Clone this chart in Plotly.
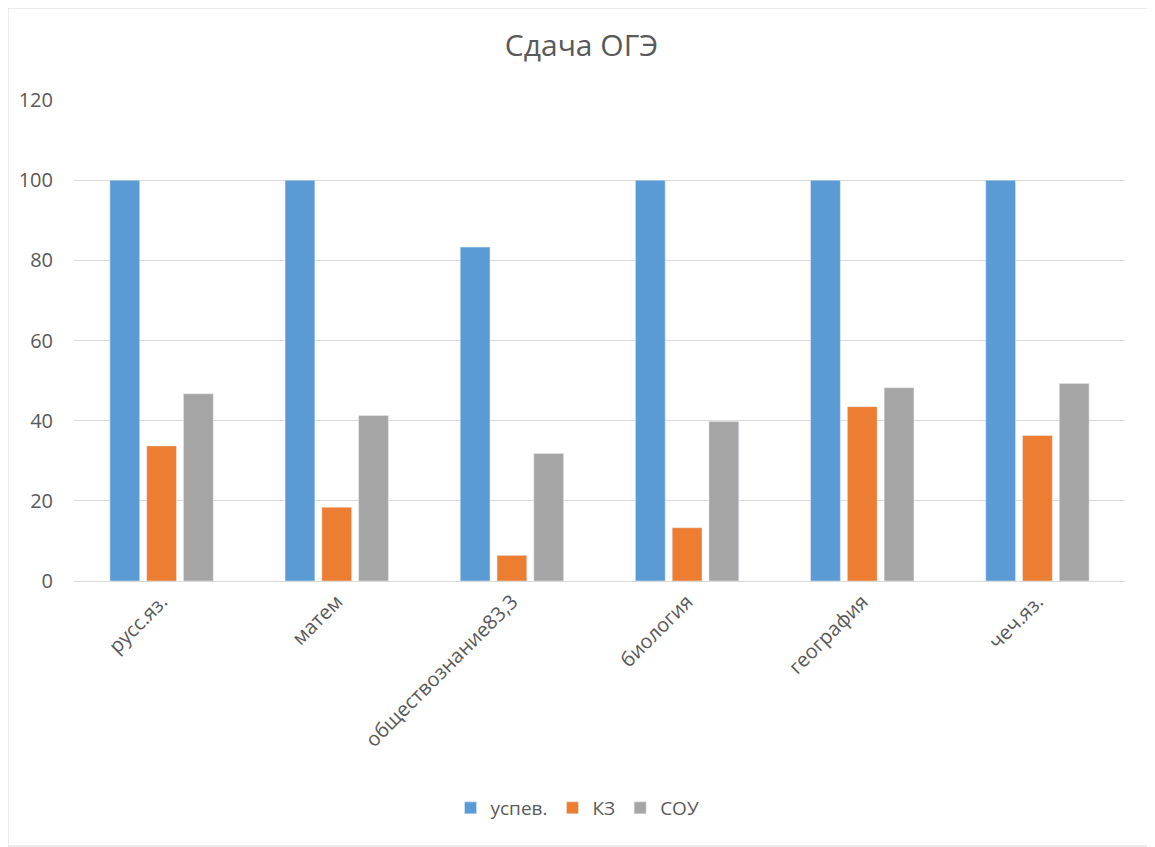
import plotly.graph_objects as go

categories = ["русс.яз.", "матем", "обществознание83,3", "биология", "география", "чеч.яз."]
uspev = [100, 100, 83.3, 100, 100, 100]
kz = [33.7, 18.4, 6.4, 13.3, 43.5, 36.3]
sou = [46.7, 41.3, 31.8, 39.8, 48.2, 49.3]
y_ticks = [0, 20, 40, 60, 80, 100, 120]

font_family = "'Open Sans', 'Noto Sans', sans-serif"
text_color = "#595959"

W, H = 1147, 839
L, R, T, B = 66, 30, 92, 266
PW, PH = W - L - R, H - T - B

fig = go.Figure()
fig.add_trace(go.Bar(name="успев.", x=categories, y=uspev, marker=dict(color="#5B9BD5")))
fig.add_trace(go.Bar(name="КЗ", x=categories, y=kz, marker=dict(color="#ED7D31")))
fig.add_trace(go.Bar(name="СОУ", x=categories, y=sou, marker=dict(color="#A5A5A5")))

fig.update_layout(
    width=W, height=H,
    paper_bgcolor="white", plot_bgcolor="white",
    margin=dict(l=L, r=R, t=T, b=B),
    barmode="group", bargap=0.37, bargroupgap=0.19,
    title=dict(text="Сдача ОГЭ", x=0.5, xanchor="center", y=1 - 37 / H, yanchor="middle",
               font=dict(family=font_family, size=30, color=text_color)),
    font=dict(family=font_family, size=20, color=text_color),
    legend=dict(orientation="h", x=0.5 - 22 / PW, xanchor="center", y=-227 / PH, yanchor="middle",
                font=dict(size=19, color=text_color), traceorder="normal",
                itemwidth=30),
    xaxis=dict(tickangle=-45, showgrid=False, showline=True, linecolor="#d9d9d9",
               ticks="", tickfont=dict(size=20, color=text_color)),
    yaxis=dict(range=[0, 120], tickvals=y_ticks, showgrid=True, gridcolor="#d9d9d9",
               gridwidth=1, zeroline=False, showline=False, ticks="",
               tickfont=dict(size=20, color=text_color), ticklabelstandoff=20),
    shapes=[dict(type="rect", xref="paper", yref="paper", x0=-L / PW, x1=1 + (R - 1) / PW,
                 y0=-(B - 1) / PH, y1=1 + T / PH, line=dict(color="#d9d9d9", width=1))],
)

fig.write_html("out.html")
